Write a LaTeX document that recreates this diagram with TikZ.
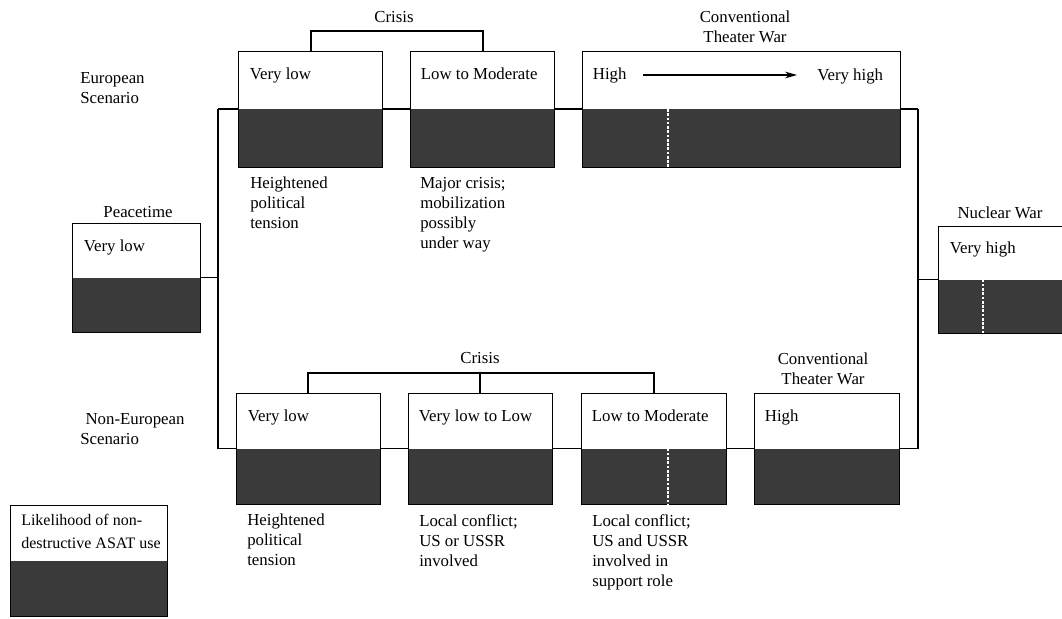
\documentclass[tikz,border=0pt]{standalone}
\usepackage{fontspec}
\setmainfont{Liberation Serif}
\usetikzlibrary{arrows.meta,calc}
\definecolor{darkfill}{RGB}{58,58,58}
\begin{document}
\begin{tikzpicture}[x=0.75pt,y=-0.75pt,
  every node/.style={font=\fontsize{12.6}{15}\selectfont, inner sep=0pt},
  stagebox/.style n args={2}{draw=black, line width=0.6pt, minimum width=#1*0.75pt, minimum height=#2*0.75pt,
    path picture={\fill[darkfill] (path picture bounding box.west) rectangle (path picture bounding box.south east);}},
  boxtext/.style={anchor=base west},
  desc/.style={anchor=north west, align=left},
  title/.style={align=center},
  conn/.style={draw=black, line width=0.9pt},
  divider/.style={draw=white, line width=1pt, dash pattern=on 2pt off 1.2pt},
  legendtext/.style={anchor=north west, align=left, font=\fontsize{12}{17}\selectfont}
]
\clip (0,0) rectangle (1062,618);
\fill[white] (0,0) rectangle (1062,618);

% side labels
\node[anchor=north west, align=left] (eurlab) at (80,72) {European\\Scenario};
\node[anchor=north west, align=left] (neurlab) at (80,413) {\hspace*{4pt}Non-European\\Scenario};

% Peacetime
\node[stagebox={128}{109}] (peace) at (136,277.5) {};
\node[title] (peacet) at (138,212) {Peacetime};
\node[boxtext] (peacev) at ($(peace.north west)+(12,29)$) {Very low};

% European row
\node[stagebox={144}{116}] (e1) at (310,109) {};
\node[stagebox={144}{116}] (e2) at (482,109) {};
\node[stagebox={318}{116}] (e3) at (741,109) {};
\node[boxtext] (e1v) at ($(e1.north west)+(12,29)$) {Very low};
\node[boxtext] (e2v) at ($(e2.north west)+(11,29)$) {Low to Moderate};
\node[boxtext] (e3a) at ($(e3.north west)+(11,29)$) {High};
\node[boxtext] (e3b) at (817,80) {Very high};
\draw[line width=0.8pt, -{Stealth[length=9pt,width=5pt]}] (643,75) -- (797,75);
\node[title] (crisisT) at (394,17) {Crisis};
\node[title] (convT) at (745,27) {Conventional\\Theater War};
\node[desc] (e1d) at (250,177) {Heightened\\political\\tension};
\node[desc] (e2d) at (420,177) {Major crisis;\\mobilization\\possibly\\under way};
\coordinate (de3) at (668,0);
\draw[divider] (de3 |- e3.west) -- (de3 |- e3.south);

% Nuclear War
\node[stagebox={152}{107}] (nuc) at (1014,279.5) {};
\node[title] (nuct) at (1000,213) {Nuclear War};
\node[boxtext] (nucv) at ($(nuc.north west)+(12,28)$) {Very high};
\coordinate (dnuc) at (983,0);
\draw[divider] (dnuc |- nuc.west) -- (dnuc |- nuc.south);

% Non-European row
\node[stagebox={144}{111}] (na) at (308,448.5) {};
\node[stagebox={144}{111}] (nb) at (480,448.5) {};
\node[stagebox={145}{111}] (nc) at (653.5,448.5) {};
\node[stagebox={145}{111}] (nd) at (826.5,448.5) {};
\node[boxtext] (nav) at ($(na.north west)+(12,29)$) {Very low};
\node[boxtext] (nbv) at ($(nb.north west)+(11,29)$) {Very low to Low};
\node[boxtext] (ncv) at ($(nc.north west)+(11,29)$) {Low to Moderate};
\node[boxtext] (ndv) at ($(nd.north west)+(11,29)$) {High};
\node[title] (crisisB) at (480,358) {Crisis};
\node[title] (convB) at (823,369) {Conventional\\Theater War};
\node[desc] (nad) at (247,514) {Heightened\\political\\tension};
\node[desc] (nbd) at (419,514) {Local conflict;\\US or USSR\\involved};
\node[desc] (ncd) at (592,514) {Local conflict;\\US and USSR\\involved in\\support role};
\coordinate (dnc) at (668,0);
\draw[divider] (dnc |- nc.west) -- (dnc |- nc.south);

% Legend
\node[stagebox={157}{111}] (leg) at (88.5,560.5) {};
\node[legendtext] (legt) at (21,514) {Likelihood of non-\\destructive ASAT use};

% connectors
\coordinate (jtl) at (218,109);
\coordinate (jbl) at (218,448.5);
\coordinate (jtr) at (918,109);
\coordinate (jbr) at (918,448.5);
\draw[conn] (jtl) -- (jbl);
\draw[conn] (peace.east) -- (peace.east -| jtl);
\draw[conn] (jtl) -- (e1.west);
\draw[conn] (e1.east) -- (e2.west);
\draw[conn] (e2.east) -- (e3.west);
\draw[conn] (e3.east) -- (jtr);
\draw[conn] (jtr) -- (jbr);
\draw[conn] (nuc.west) -- (nuc.west -| jtr);
\draw[conn] (jbl) -- (na.west);
\draw[conn] (na.east) -- (nb.west);
\draw[conn] (nb.east) -- (nc.west);
\draw[conn] (nc.east) -- (nd.west);
\draw[conn] (nd.east) -- (jbr);

% crisis brackets
\coordinate (ct1) at (311,31);
\coordinate (ct2) at (483,31);
\draw[conn] (ct1 |- e1.north) -- (ct1) -- (ct2) -- (ct2 |- e2.north);
\coordinate (cb1) at (308,373);
\coordinate (cb2) at (480,373);
\coordinate (cb3) at (654,373);
\draw[conn] (cb1 |- na.north) -- (cb1) -- (cb3) -- (cb3 |- nc.north);
\draw[conn] (cb2) -- (cb2 |- nb.north);
\end{tikzpicture}
\end{document}
